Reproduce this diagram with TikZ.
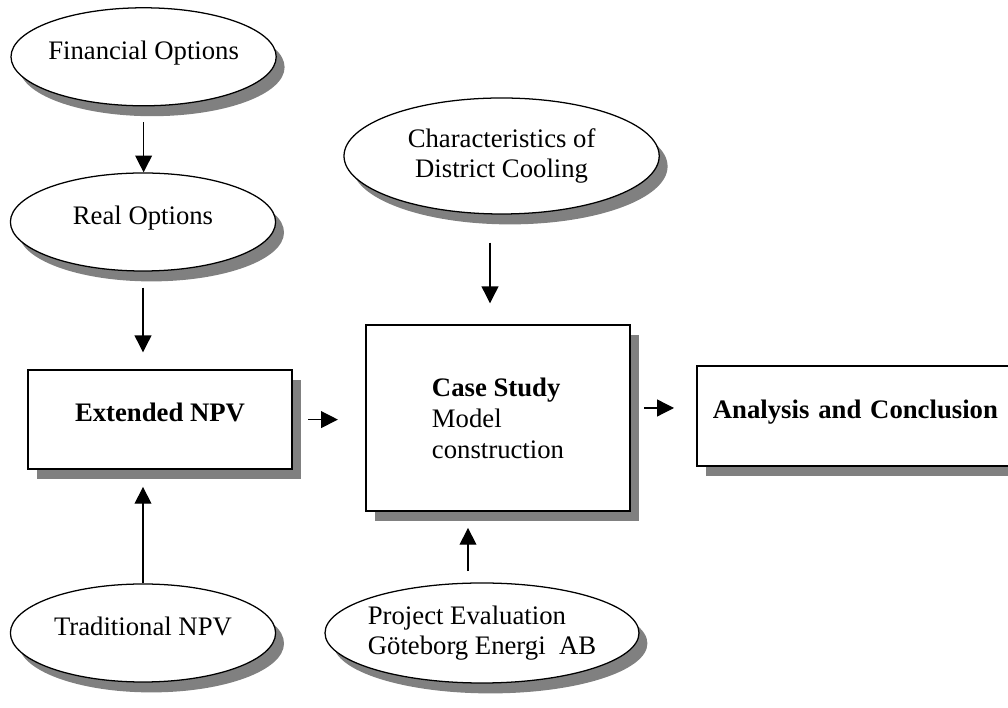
\documentclass[tikz,border=0pt]{standalone}
\usepackage{fontspec}
\setmainfont{Liberation Serif}
\usetikzlibrary{shapes.geometric, arrows.meta, positioning, shadows}
\definecolor{shadowGray}{RGB}{128, 128, 128}

\begin{document}
\begin{tikzpicture}[
				flow_oval/.style  = {draw, ellipse, line width=0.9pt, fill=white,
					minimum width=6.63cm, minimum height=2.45cm, inner xsep=-0.25cm, align=center,
					font=\fontsize{19}{21.5}\selectfont,
					drop shadow={shadow xshift=0.21cm, shadow yshift=-0.26cm, fill=shadowGray, opacity=1}},
				flow_box/.style   = {draw, rectangle, line width=1.3pt, fill=white,
					minimum width=6.6cm, minimum height=2.48cm, align=center,
					font=\fontsize{19}{22}\selectfont,
					drop shadow={shadow xshift=0.23cm, shadow yshift=-0.24cm, fill=shadowGray, opacity=1}},
				line/.style       = {-{Triangle[length=0.42cm, width=0.42cm]}, line width=0.9pt}
				]
				\path[use as bounding box] (0, 0) rectangle (25.2, 17.7);
				
				\node[flow_oval, text depth=0.35cm] (fin) at (3.59, 16.28) {Financial Options};
				\node[flow_oval, text depth=0.35cm] (real) at (3.575, 12.15) {Real Options};
				\node[flow_oval, text depth=0.35cm] (trad) at (3.575, 1.875) {Traditional NPV};
				\node[flow_box, text depth=0.35cm] (ext) at (4.0, 7.21) {\textbf{Extended NPV}};
				
				\node[flow_oval, minimum width=7.88cm, minimum height=2.9cm]
				(char) at (12.54, 13.8) {Characteristics of\\District Cooling};
				\node[flow_box, minimum height=4.65cm, align=left]
				(case) at (12.45, 7.25) {\textbf{Case Study}\\Model\\construction};
				\node[flow_oval, minimum width=7.85cm, minimum height=2.5cm, align=left]
				(proj) at (12.05, 1.875) {Project Evaluation\\Göteborg Energi\ \ AB};
				\node[flow_box, anchor=west, minimum height=2.5cm, text width=7.4cm, inner xsep=0.4cm,
					align=left, text depth=0.35cm]
				(ana) at (17.4, 7.3) {\textbf{Analysis and Conclusion}};
				
				\coordinate (char_out) at ([xshift=-0.29cm]char.south);
				\coordinate (proj_out) at ([xshift=-0.35cm, yshift=0.28cm]proj.north);
				\coordinate (case_out) at ([yshift=0.25cm]case.east);
				
				\draw[line, shorten <=0.4cm] (fin.south) -- (fin.south |- real.north);
				\draw[line, shorten <=0.4cm, shorten >=0.42cm] (real.south) -- (real.south |- ext.north);
				\draw[line, shorten >=0.42cm] (trad.north) -- (trad.north |- ext.south);
				\draw[line, shorten <=0.38cm, shorten >=0.68cm] (ext.east) -- (ext.east -| case.west);
				\draw[line, shorten <=0.7cm, shorten >=0.52cm] (char_out) -- (char_out |- case.north);
				\draw[line, shorten >=0.4cm] (proj_out) -- (proj_out |- case.south);
				\draw[line, shorten <=0.33cm, shorten >=0.55cm] (case_out) -- (case_out -| ana.west);
			\end{tikzpicture}
\end{document}
